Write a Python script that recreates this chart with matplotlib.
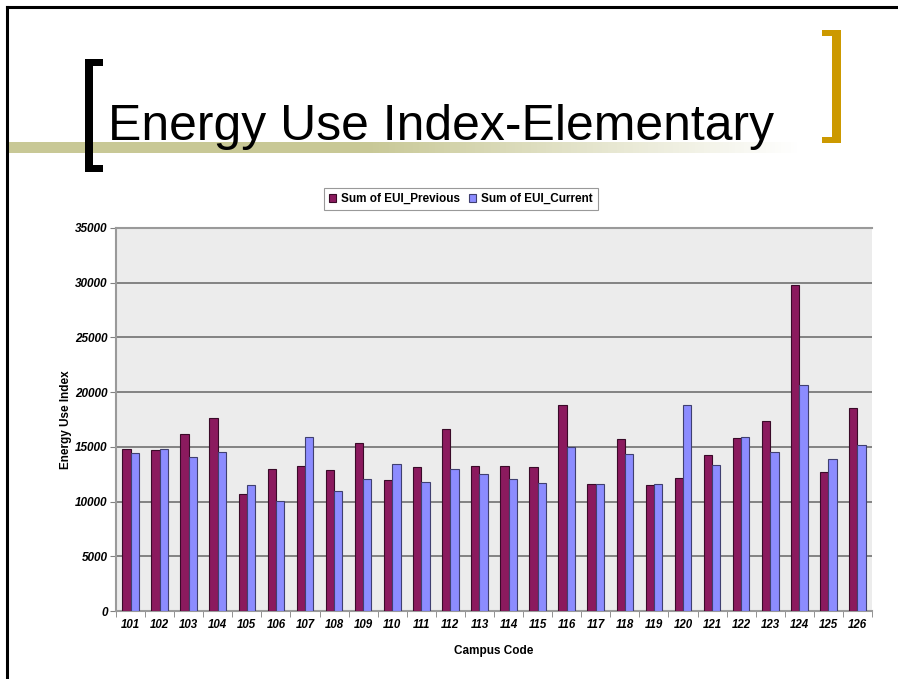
import numpy as np
import matplotlib.pyplot as plt
from matplotlib.patches import Rectangle

plt.rcParams['font.family'] = ['Liberation Sans', 'DejaVu Sans']

campus = ['101', '102', '103', '104', '105', '106', '107', '108', '109',
          '110', '111', '112', '113', '114', '115', '116', '117', '118',
          '119', '120', '121', '122', '123', '124', '125', '126']
eui_previous = [14840, 14690, 16180, 17680, 10720, 13010, 13280, 12920,
                15360, 11940, 13160, 16640, 13220, 13220, 13160, 18840,
                11600, 15700, 11510, 12150, 14260, 15850, 17370, 29800,
                12730, 18570]
eui_current = [14470, 14810, 14080, 14530, 11510, 10020, 15940, 10960,
               12090, 13470, 11790, 12980, 12490, 12090, 11730, 14960,
               11600, 14320, 11600, 18840, 13310, 15940, 14530, 20670,
               13860, 15210]

W, H = 898, 679
fig = plt.figure(figsize=(W / 100, H / 100), dpi=100)

# slide decoration drawn in pixel coordinates
deco = fig.add_axes([0, 0, 1, 1], zorder=-10)
deco.set_xlim(0, W)
deco.set_ylim(H, 0)
deco.axis('off')

deco.plot([7, 7], [7, H], color='k', lw=2.2)
deco.plot([7, W], [7, 7], color='k', lw=2.2)

# olive band fading to white
grad = np.linspace(0, 1, 256)
band = np.ones((1, 256, 3))
olive = np.array([200, 200, 150]) / 255
fade = np.clip((grad - 0.45) / 0.55, 0, 1)
band[0] = olive * (1 - fade[:, None]) + fade[:, None]
deco.imshow(band, extent=(8, 800, 153, 142), aspect='auto', zorder=1)

# black bracket
for x, y, w, h in [(85, 59, 8, 113), (85, 59, 18, 7), (85, 165, 18, 7)]:
    deco.add_patch(Rectangle((x, y), w, h, color='black', lw=0, zorder=2))
# gold bracket
for x, y, w, h in [(832, 30, 9, 113), (822, 30, 19, 6), (822, 137, 19, 6)]:
    deco.add_patch(Rectangle((x, y), w, h, color='#cc9900', lw=0, zorder=2))

deco.text(108, 140, 'Energy Use Index-Elementary', fontsize=35.9,
          ha='left', va='baseline', color='black', zorder=3)

# chart
ax = fig.add_axes([116 / W, 1 - 611 / H, 756 / W, 383 / H])
ax.set_facecolor('#ececec')
x = np.arange(len(campus))
bw = 1 / 3.5
ax.bar(x - bw / 2, eui_previous, bw, color='#8b1a5e', edgecolor='#3a0a28',
       lw=0.8, label='Sum of EUI_Previous', zorder=3)
ax.bar(x + bw / 2, eui_current, bw, color='#8c8cff', edgecolor='#404070',
       lw=0.8, label='Sum of EUI_Current', zorder=3)

ax.set_xlim(-0.5, len(campus) - 0.5)
ax.set_ylim(0, 35000)
ax.set_yticks(np.arange(0, 35001, 5000))
ax.yaxis.grid(True, color='#7a7a7a', lw=1.3, zorder=1)
ax.set_axisbelow(True)

ax.set_xticks(x)
ax.set_xticklabels(campus, fontsize=8.3, fontweight='bold', style='italic')
ax.set_xticks(np.arange(len(campus) + 1) - 0.5, minor=True)
ax.tick_params(axis='x', which='major', length=0, pad=6)
ax.tick_params(axis='x', which='minor', length=4, color='#808080')
ax.tick_params(axis='y', length=4, color='#808080', pad=2)
for t in ax.get_yticklabels():
    t.set_fontsize(8.5)
    t.set_fontweight('bold')
    t.set_style('italic')

for side in ['left', 'bottom', 'top']:
    ax.spines[side].set_color('#9a9a9a')
    ax.spines[side].set_linewidth(1.5)
ax.spines['right'].set_visible(False)

ax.set_ylabel('Energy Use Index', fontsize=8.5, fontweight='bold', labelpad=2)
ax.set_xlabel('Campus Code', fontsize=8.5, fontweight='bold', labelpad=10)

leg = fig.legend(loc='center', bbox_to_anchor=(461 / W, 1 - 199 / H),
                 ncol=2,
                 prop={'family': ['Liberation Sans Narrow', 'Liberation Sans'],
                       'weight': 'bold', 'size': 8.5},
                 frameon=True, fancybox=False, edgecolor='#808080',
                 handlelength=0.6, handleheight=0.6, handletextpad=0.4,
                 columnspacing=0.8, borderpad=0.4, shadow=False)
leg.get_frame().set_linewidth(0.8)

fig.savefig('out.png', dpi=100, facecolor='white')
